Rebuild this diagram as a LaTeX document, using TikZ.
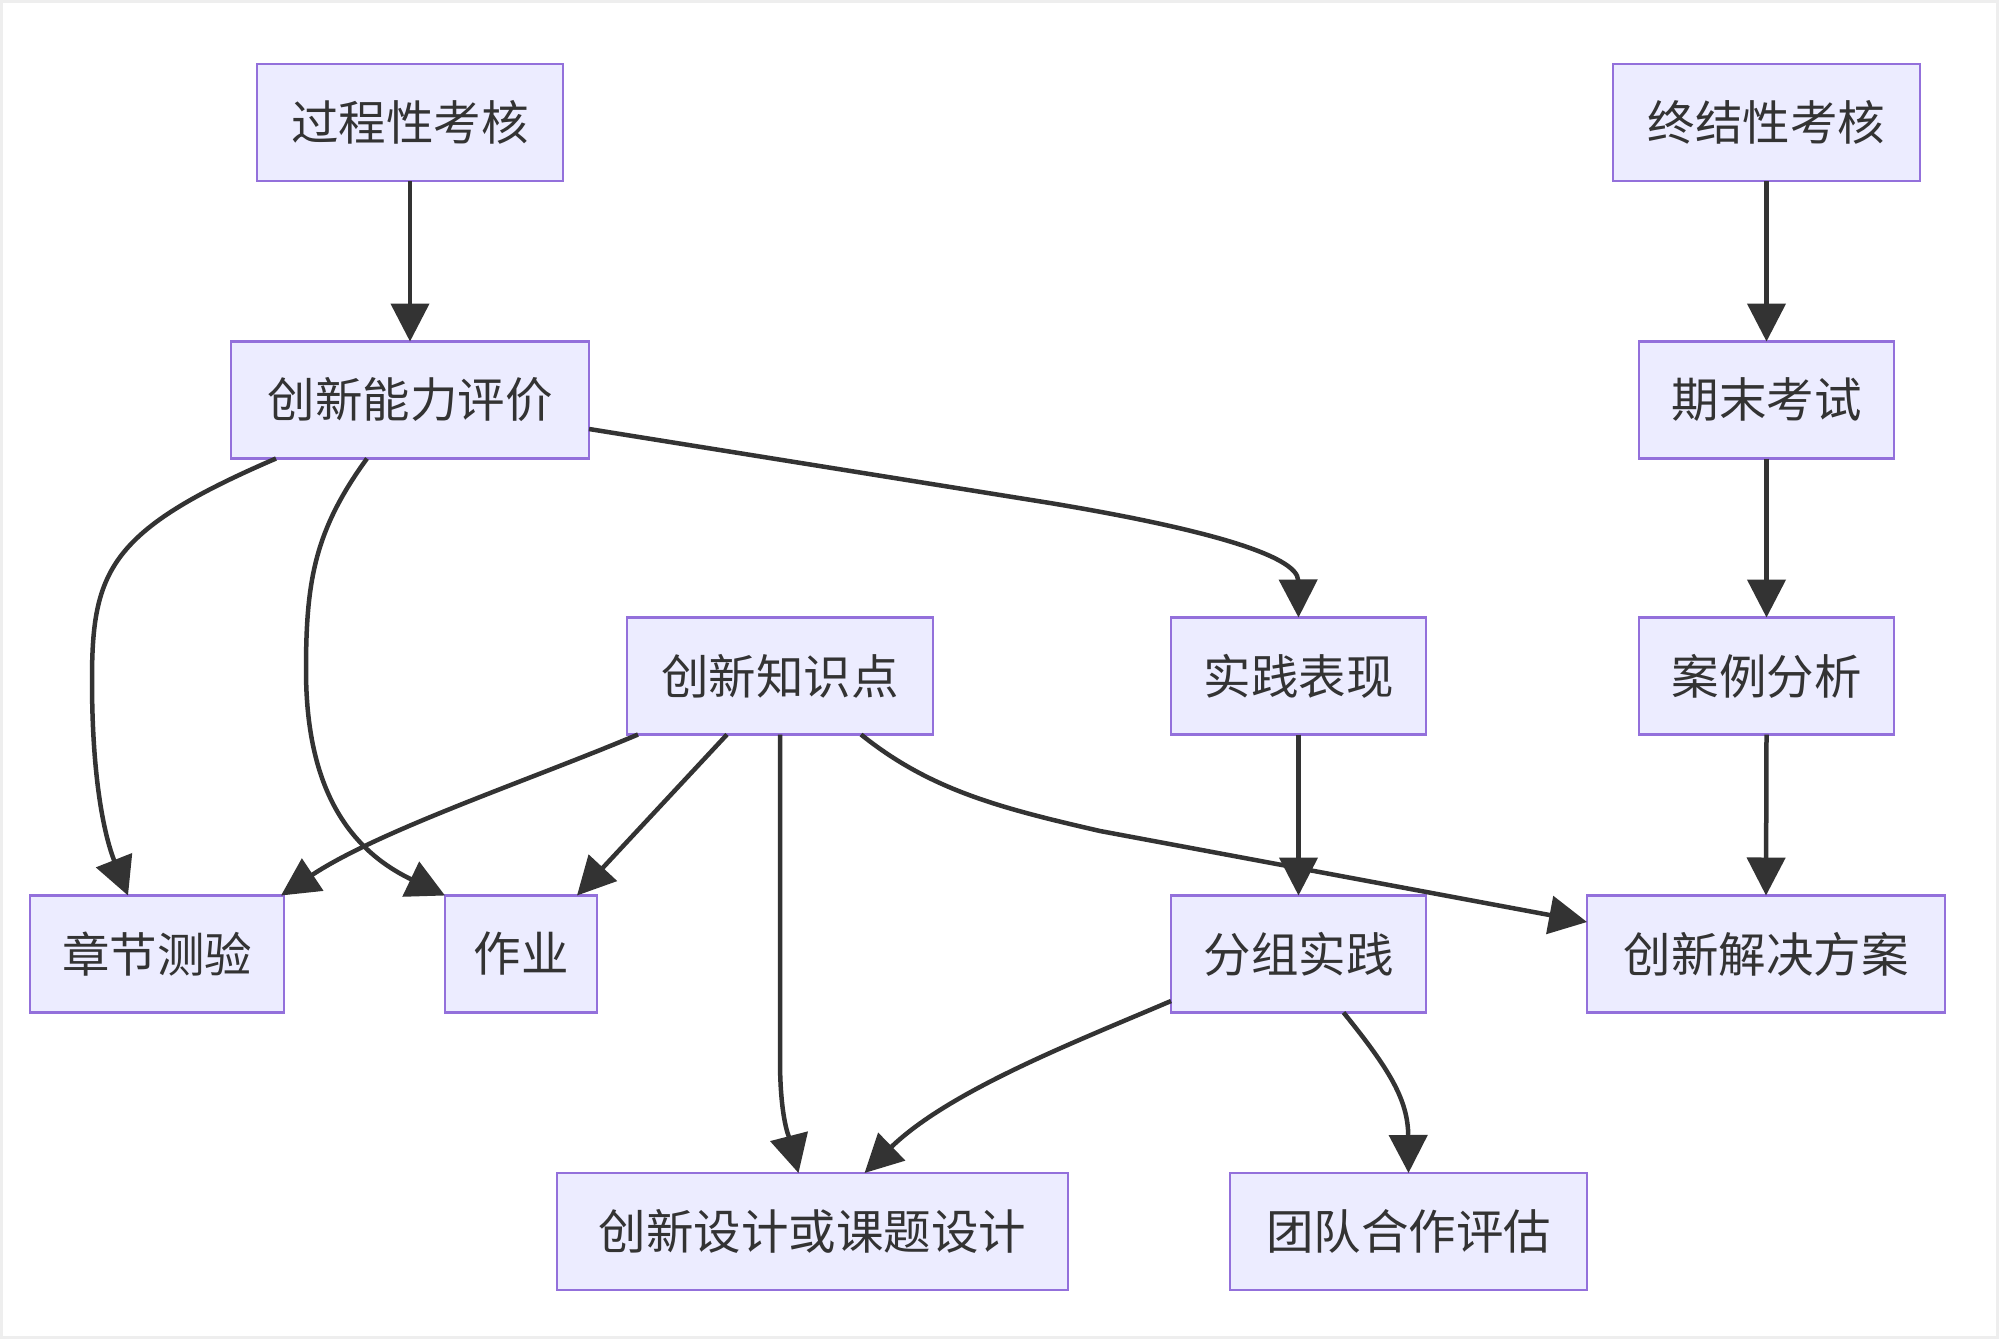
\documentclass[tikz,border=0pt]{standalone}
\usepackage{fontspec}
\setmainfont{Noto Sans CJK SC}
\usetikzlibrary{arrows.meta}
\definecolor{boxfill}{HTML}{ECECFF}
\definecolor{boxline}{HTML}{9370DB}
\definecolor{edgecol}{HTML}{333333}
\definecolor{framecol}{HTML}{EEEEEE}
\tikzset{
  box/.style={draw=boxline, fill=boxfill, line width=2.5pt, minimum height=117pt,
    inner sep=0pt, outer sep=0pt, text=edgecol, font=\fontsize{47.5}{50}\selectfont},
  link/.style={draw=edgecol, line width=4.5pt, -{Triangle[length=38pt,width=38pt]}},
}
\begin{document}
\begin{tikzpicture}[x=1pt,y=-1pt]
\useasboundingbox (0,0) rectangle (1999,1339);
\fill[white] (0,0) rectangle (1999,1339);
\draw[framecol, line width=3pt] (1.5,1.5) rectangle (1997.5,1337.5);

\node[box, minimum width=306pt] (A) at (410,122.5) {过程性考核};
\node[box, minimum width=358pt] (B) at (410,400) {创新能力评价};
\node[box, minimum width=307pt] (C) at (1766.5,122.5) {终结性考核};
\node[box, minimum width=255pt] (D) at (1766.5,400) {期末考试};
\node[box, minimum width=306pt] (E) at (780,676) {创新知识点};
\node[box, minimum width=255pt] (F) at (1298.5,676) {实践表现};
\node[box, minimum width=255pt] (G) at (1766.5,676) {案例分析};
\node[box, minimum width=254pt] (H) at (157,954) {章节测验};
\node[box, minimum width=152pt] (I) at (521,954) {作业};
\node[box, minimum width=255pt] (J) at (1298.5,954) {分组实践};
\node[box, minimum width=358pt] (K) at (1766,954) {创新解决方案};
\node[box, minimum width=511pt] (L) at (812.5,1231.5) {创新设计或课题设计};
\node[box, minimum width=357pt] (M) at (1408.5,1231.5) {团队合作评估};

% straight vertical links
\draw[link] (A.south) -- (B.north);
\draw[link] (C.south) -- (D.north);
\draw[link] (D.south) -- (G.north);
\draw[link] (G.south) -- (K.north);
\draw[link] (F.south) -- (J.north);

% from 创新能力评价
\draw[link] ([xshift=-134pt]B.south) .. controls (110,530) and (92,570) .. (92,680)
  .. controls (92,800) and (110,850) .. ([xshift=-29pt]H.north);
\draw[link] ([xshift=-43pt]B.south) .. controls (315,530) and (306,580) .. (306,670)
  .. controls (306,790) and (350,850) .. (I.north west);
\draw[link] ([yshift=-29pt]B.east) -- (1050,503) .. controls (1200,528) and (1298,555) .. (F.north);

% from 创新知识点
\draw[link] ([xshift=-142pt]E.south) .. controls (530,780) and (380,830) .. ([xshift=-3pt]H.north east);
\draw[link] ([xshift=-53pt]E.south) -- ([xshift=-20pt]I.north east);
\draw[link] (E.south) -- (780,1060) .. controls (780,1120) and (790,1140) .. ([xshift=-14pt]L.north);
\draw[link] ([xshift=81pt]E.south) .. controls (930,790) and (1000,808) .. (1100,831)
  -- ([yshift=32pt]K.west);

% from 分组实践
\draw[link] ([yshift=-47pt]J.west) .. controls (1080,1040) and (950,1090) .. ([xshift=52pt]L.north);
\draw[link] ([xshift=45pt]J.south) .. controls (1390,1070) and (1408,1100) .. (M.north);
\end{tikzpicture}
\end{document}
